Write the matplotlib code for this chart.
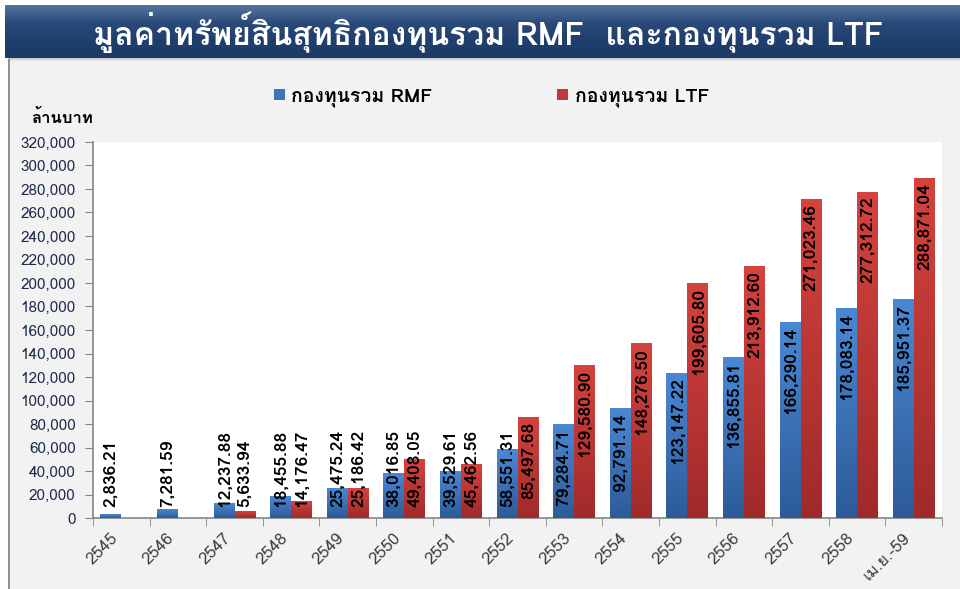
import numpy as np
import matplotlib
matplotlib.use("Agg")
import matplotlib.pyplot as plt
from matplotlib.patches import Rectangle
from matplotlib.colors import LinearSegmentedColormap
from matplotlib.ticker import FuncFormatter

plt.rcParams["font.family"] = ["Loma", "DejaVu Sans"]

# ------------------------------------------------------------
# data (ล้านบาท)
# ------------------------------------------------------------
years = ["2545", "2546", "2547", "2548", "2549", "2550", "2551", "2552",
         "2553", "2554", "2555", "2556", "2557", "2558", "เม.ย.-59"]
rmf = [2836.21, 7281.59, 12237.88, 18455.88, 25475.24, 38016.85, 39529.61,
       58551.31, 79284.71, 92791.14, 123147.22, 136855.81, 166290.14,
       178083.14, 185951.37]
ltf = [np.nan, np.nan, 5633.94, 14176.47, 25186.42, 49408.05, 45462.56,
       85497.68, 129580.90, 148276.50, 199605.80, 213912.60, 271023.46,
       277312.72, 288871.04]

title = "มูลค่าทรัพย์สินสุทธิกองทุนรวม RMF  และกองทุนรวม LTF"
rmf_label = "กองทุนรวม RMF"
ltf_label = "กองทุนรวม LTF"
unit_label = "ล้านบาท"

W, H = 960, 589
fig = plt.figure(figsize=(W / 100, H / 100), dpi=100, facecolor="white")

# ------------------------------------------------------------
# background: title bar + grey panel (pixel coords)
# ------------------------------------------------------------
bg = fig.add_axes([0, 0, 1, 1], zorder=-5)
bg.set_xlim(0, W)
bg.set_ylim(H, 0)
bg.axis("off")
bg.add_patch(Rectangle((8, 60), W - 8, H - 60, facecolor="#F2F2F2",
                       edgecolor="none"))
bg.plot([8.5, 8.5], [60, H], color="#808080", lw=1.2)
for i, a in enumerate([0.35, 0.2, 0.1]):
    bg.add_patch(Rectangle((8, 58 + i), W - 8, 1, facecolor="#606060",
                           alpha=a, edgecolor="none"))
title_cmap = LinearSegmentedColormap.from_list(
    "tb", ["#5474A0", "#2A4A7A", "#213F6D", "#1D3A66"])
bg.imshow(np.linspace(0, 1, 60).reshape(-1, 1), cmap=title_cmap,
          extent=(5, W, 58, 5), aspect="auto", zorder=1)
bg.text(488, 32, title, color="white", fontsize=23, fontweight="bold",
        ha="center", va="center", zorder=3)

# ------------------------------------------------------------
# chart
# ------------------------------------------------------------
ax = fig.add_axes([93 / W, 1 - 518 / H, (942 - 93) / W, (518 - 142) / H])
ax.set_facecolor("white")

x = np.arange(len(years))
width = 0.37

bars_rmf = ax.bar(x - width / 2, rmf, width, color="#3F74BA",
                  label=rmf_label, zorder=2)
bars_ltf = ax.bar(x + width / 2, np.nan_to_num(ltf), width, color="#C2383A",
                  label=ltf_label, zorder=2)

# vertical gradient fill, lighter at the top
blue_cmap = LinearSegmentedColormap.from_list("b", ["#4A88D4", "#2D5B98"])
red_cmap = LinearSegmentedColormap.from_list("r", ["#D4433E", "#A02A2A"])
grad = np.linspace(0, 1, 64).reshape(-1, 1)
for bars, cmap in [(bars_rmf, blue_cmap), (bars_ltf, red_cmap)]:
    for b in bars:
        h = b.get_height()
        if h <= 0:
            continue
        x0 = b.get_x()
        ax.imshow(grad, cmap=cmap, extent=(x0, x0 + b.get_width(), 0, h),
                  aspect="auto", zorder=3, interpolation="bilinear")

ax.set_xlim(-0.5, len(years) - 0.5)
ax.set_ylim(0, 320000)
ax.set_yticks(np.arange(0, 320001, 20000))
ax.yaxis.set_major_formatter(FuncFormatter(lambda v, p: f"{v:,.0f}"))

ax.set_xticks(x)
ax.set_xticklabels(years, rotation=45, ha="right", va="top")
ax.set_xticks(np.arange(-0.5, len(years)), minor=True)
ax.tick_params(axis="x", which="major", length=0, pad=9, labelsize=12,
               labelcolor="#404040")
ax.tick_params(axis="x", which="minor", length=5.5, color="#868686")
ax.tick_params(axis="y", length=5.5, color="#868686", labelsize=11,
               labelcolor="#1C2A48", pad=7)

for s in ["top", "right"]:
    ax.spines[s].set_visible(False)
for s in ["left", "bottom"]:
    ax.spines[s].set_color("#868686")
    ax.spines[s].set_linewidth(1.2)

# value labels: inside end, pushed up so they never sit below the base line
labels = []
for bars, vals in [(bars_rmf, rmf), (bars_ltf, ltf)]:
    for b, v in zip(bars, vals):
        if np.isnan(v):
            continue
        t = ax.annotate(f"{v:,.2f}", (b.get_x() + b.get_width() / 2, v),
                        xytext=(0, -3), textcoords="offset points",
                        rotation=90, ha="center", va="top", fontsize=12.5,
                        fontweight="bold", color="black", zorder=5)
        labels.append(t)

fig.canvas.draw()
renderer = fig.canvas.get_renderer()
base_px = ax.transData.transform((0, 0))[1]
for t in labels:
    bb = t.get_window_extent(renderer)
    if bb.y0 < base_px + 11:
        t.xy = (t.xy[0], 0)
        t.set_va("bottom")
        t.xyann = (0, 8)

ax.text(-0.0365, 1.066, unit_label, transform=ax.transAxes, fontsize=12,
        fontweight="bold", color="black", ha="center", va="center")

fig.legend(handles=[bars_rmf, bars_ltf], loc="center",
           bbox_to_anchor=(0.512, 1 - 97 / H), ncol=2, frameon=False,
           prop={"weight": "bold", "size": 14},
           handlelength=0.55, handleheight=0.55, handletextpad=0.35,
           columnspacing=6.4)

fig.savefig("out.png", dpi=100, facecolor="white")
